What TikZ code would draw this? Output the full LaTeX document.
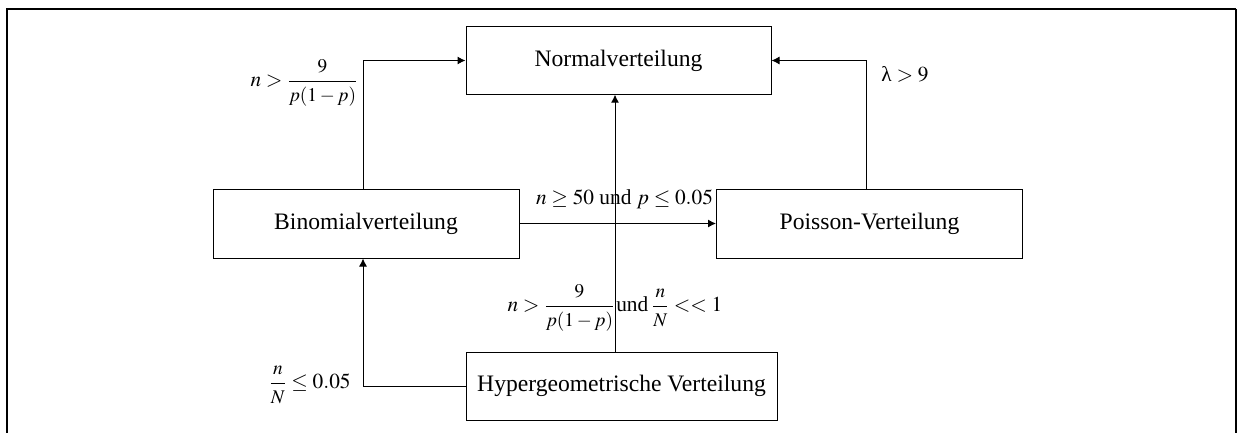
\documentclass[tikz,border=0pt]{standalone}
\usepackage{amsmath}
\usepackage{mathptmx}
\usepackage[no-math]{fontspec}
\setmainfont{Liberation Serif}
\usetikzlibrary{arrows.meta,calc}
\newcommand{\myfr}[2]{\dfrac{\text{\fontsize{14.5}{17}\selectfont$#1$}}{\text{\fontsize{14.5}{17}\selectfont$#2$}}}
\begin{document}
\begin{tikzpicture}[x=0.75pt,y=-0.75pt,
  box/.style={draw,line width=0.75pt,inner sep=0pt,font=\fontsize{17.7}{21}\selectfont},
  arr/.style={line width=0.75pt,-{Latex[length=6pt,width=6pt]}},
  lab/.style={inner sep=0pt,font=\fontsize{16}{19}\selectfont},
  frame/.style={line width=1.6pt}]
\useasboundingbox (0,0) rectangle (1237,432);
% outer frame
\draw[frame] (7,440) -- (7,9) -- (1236,9);
\draw[line width=1.2pt] (1236,9) -- (1236,440);
% boxes
\node[box,minimum width=228.75pt,minimum height=50.5pt] (norm) at (618.5,60.5) {Normalverteilung};
\node[box,minimum width=229.5pt,minimum height=51.75pt] (binom) at (366,223.5) {Binomialverteilung};
\node[box,minimum width=229.5pt,minimum height=51.75pt] (poisson) at (869.5,223.5) {Poisson-Verteilung};
\node[box,minimum width=233.25pt,minimum height=51pt] (hyper) at (621.5,386) {Hypergeometrische Verteilung};
\coordinate (mid) at ($(norm.south)+(-3.5,0)$);
% connectors
\draw[arr] ($(binom.north)+(-3,0)$) |- (norm.west);
\draw[arr] ($(poisson.north)+(-3.5,0)$) |- (norm.east);
\draw[arr] (binom.east) -- (poisson.west);
\draw[arr] (mid |- hyper.north) -- (mid);
\draw[arr] (hyper.west) -| ($(binom.south)+(-3,0)$);
% labels
\node[lab,anchor=east] (l1) at (358,83) {$n>\myfr{9}{p(1-p)}$};
\node[lab] (l2) at (905,74) {$\text{λ}>9$};
\node[lab] (l3) at (624.5,199) {$n\ge 50$\ und\ $p\le 0.05$};
\node[lab,anchor=east] (l4a) at (615,308) {$n>\myfr{9}{p(1-p)}$};
\node[lab,anchor=west] (l4b) at (616,308) {und\,$\myfr{n}{N}<<1$};
\node[lab] (l5) at (310,385) {$\myfr{n}{N}\le 0.05$};
\end{tikzpicture}
\end{document}
